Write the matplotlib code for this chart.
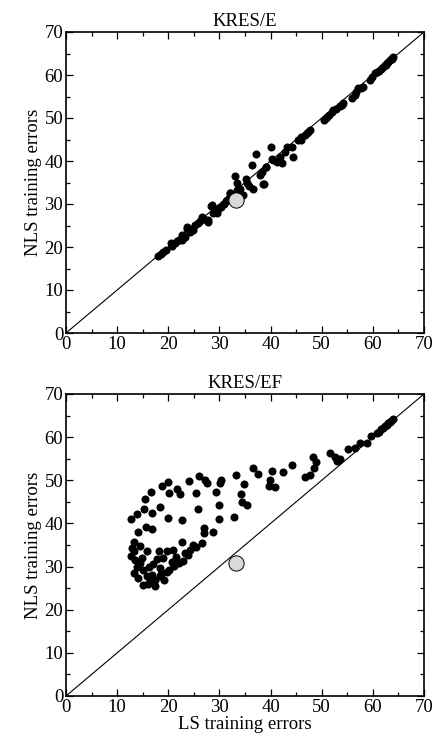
import matplotlib
matplotlib.use("Agg")
import matplotlib.pyplot as plt
from matplotlib.ticker import MultipleLocator

plt.rcParams['font.family'] = ['Liberation Serif', 'DejaVu Serif']

# ---- data: KRES/E (top) ----
top_ls = [18.0, 18.6, 19.0, 19.5, 20.5, 20.7, 21.3, 22.0, 22.6, 22.6, 23.2, 23.6, 23.6, 24.2,
          24.9, 25.3, 25.8, 26.5, 27.0, 27.8, 27.8, 28.3, 28.5, 28.7, 29.5, 29.8, 30.4, 30.8,
          31.2, 31.8, 32.1, 32.1, 32.6, 33.1, 33.4, 33.5, 34.7, 35.2, 35.3, 35.7, 36.4, 36.5,
          37.1, 37.9, 38.3, 38.6, 38.7, 39.2, 39.2, 40.1, 40.2, 40.5, 41.2, 41.8, 42.2, 42.8,
          43.2, 44.1, 44.4, 45.4, 46.0, 46.8, 47.1, 47.7, 50.4, 51.0, 51.5, 52.3, 52.8, 54.0,
          54.2, 56.5, 56.8, 57.1, 58.1, 59.4, 59.9, 60.4, 60.8, 61.2, 61.6, 62.0, 62.3, 62.7,
          63.0, 63.4, 63.7, 64.0, 63.8, 62.5, 45.9, 47.4, 50.8, 52.0, 53.6, 55.9, 57.6, 21.8,
          24.6, 26.2, 29.2, 31.5, 34.0]
top_nls = [17.9, 18.3, 18.9, 19.2, 21.0, 20.3, 20.9, 21.6, 21.6, 22.8, 22.4, 24.3, 24.7, 23.6,
           24.0, 25.1, 25.6, 27.0, 26.6, 26.3, 25.9, 29.6, 29.8, 27.9, 27.8, 28.8, 29.4, 30.1,
           30.6, 31.3, 32.5, 32.6, 31.6, 36.5, 34.8, 33.2, 32.1, 35.8, 34.8, 34.2, 39.1, 33.6,
           41.6, 36.7, 37.5, 34.6, 34.6, 38.5, 38.7, 43.3, 40.4, 40.2, 39.8, 41.0, 39.5, 42.2,
           43.3, 43.3, 41.0, 44.9, 45.5, 46.0, 46.4, 47.2, 49.6, 50.2, 50.6, 51.9, 52.1, 53.1,
           53.4, 55.3, 56.1, 56.9, 57.3, 58.8, 59.6, 60.5, 60.7, 61.0, 61.5, 61.9, 62.3, 62.7,
           63.0, 63.5, 63.8, 64.3, 64.0, 62.4, 45.0, 46.8, 49.9, 51.3, 52.8, 54.6, 57.0, 21.4,
           24.2, 26.0, 28.9, 31.0, 33.4]

# ---- data: KRES/EF (bottom) ----
bot_ls = [15.1, 16.1, 17.4, 17.4, 15.8, 14.1, 13.2, 16.8, 18.4, 19.7, 18.4, 15.1, 14.5, 17.1,
          20.7, 22.0, 13.5, 12.8, 19.0, 21.6, 23.3, 13.2, 15.8, 18.2, 19.7, 21.0, 24.2, 25.4,
          14.5, 13.3, 22.6, 26.5, 14.1, 15.6, 16.9, 26.9, 27.0, 28.7, 12.8, 13.8, 15.3, 16.8,
          18.4, 19.9, 22.7, 25.9, 29.9, 30.0, 32.9, 15.4, 16.6, 18.7, 20.0, 20.2, 21.8, 22.2,
          24.0, 25.4, 26.0, 27.2, 27.6, 29.4, 30.3, 30.2, 33.2, 34.9, 34.2, 34.4, 35.4, 36.6,
          37.5, 39.9, 39.7, 40.8, 40.3, 42.4, 44.1, 46.7, 47.7, 48.5, 48.3, 48.9, 51.6, 52.6,
          52.9, 53.6, 55.1, 56.5, 57.4, 58.8, 59.7, 60.8, 61.2, 61.6, 62.0, 62.4, 62.7, 63.0,
          63.3, 63.6, 64.0, 18.6, 20.2, 21.2, 22.8, 23.8, 16.2, 17.8, 14.8, 13.9, 16.4, 19.2,
          12.9, 24.9]
bot_nls = [25.7, 26.0, 25.5, 26.9, 27.7, 27.3, 28.4, 28.0, 27.7, 28.8, 29.6, 29.2, 30.8, 30.6,
           31.1, 30.8, 31.5, 32.5, 31.9, 32.3, 33.1, 33.7, 33.7, 33.7, 33.7, 33.8, 33.8, 34.5,
           34.8, 35.8, 35.8, 35.4, 38.1, 39.2, 38.6, 38.9, 37.7, 38.1, 41.0, 42.1, 43.3, 42.5,
           43.7, 41.2, 40.7, 43.3, 44.3, 41.1, 41.5, 45.6, 47.4, 48.6, 49.6, 47.1, 47.9, 46.8,
           49.9, 47.0, 51.0, 50.1, 49.4, 47.4, 50.1, 49.3, 51.2, 49.1, 46.8, 44.9, 44.3, 52.8,
           51.5, 50.0, 48.7, 48.4, 52.2, 52.0, 53.5, 50.8, 51.2, 52.8, 55.4, 54.3, 56.4, 55.3,
           54.4, 54.9, 57.2, 57.5, 58.6, 58.7, 60.2, 61.0, 61.3, 61.8, 62.1, 62.5, 62.8, 63.2,
           63.5, 63.8, 64.1, 28.2, 29.3, 30.2, 31.4, 32.6, 29.8, 31.8, 32.0, 29.9, 27.0, 26.8,
           34.2, 35.0]

# highlighted reference point (same in both panels)
ref_ls = [33.2]
ref_nls = [30.9]

titles = ["KRES/E", "KRES/EF"]
x_label = "LS training errors"
y_label = "NLS training errors"

fig = plt.figure(figsize=(4.35, 7.41), dpi=100)
W, H = 435, 741
ax_top = fig.add_axes([66 / W, 1 - 333 / H, 358 / W, 301 / H])
ax_bot = fig.add_axes([66 / W, 1 - 696 / H, 358 / W, 302 / H])

for ax, xs, ys, title in [(ax_top, top_ls, top_nls, titles[0]),
                          (ax_bot, bot_ls, bot_nls, titles[1])]:
    ax.plot([0, 70], [0, 70], color='black', lw=0.8, zorder=1)
    ax.plot(xs, ys, 'o', color='black', ms=5.8, mec='black', mew=0, zorder=2)
    ax.plot(ref_ls, ref_nls, 'o', color='#d9d9d9', ms=11, mec='black', mew=0.7, zorder=3)
    ax.set_xlim(0, 70)
    ax.set_ylim(0, 70)
    ax.xaxis.set_major_locator(MultipleLocator(10))
    ax.yaxis.set_major_locator(MultipleLocator(10))
    ax.xaxis.set_minor_locator(MultipleLocator(5))
    ax.yaxis.set_minor_locator(MultipleLocator(5))
    ax.tick_params(which='both', direction='in', top=True, right=True, labelsize=13.5, pad=2)
    ax.tick_params(which='major', length=5, width=0.9)
    ax.tick_params(which='minor', length=3, width=0.9)
    for s in ax.spines.values():
        s.set_linewidth(1.2)
    ax.set_title(title, fontsize=13.5, pad=4)
    ax.set_ylabel(y_label, fontsize=13.5, labelpad=2)

ax_bot.set_xlabel(x_label, fontsize=13.5, labelpad=0.5)

fig.savefig("out.png", dpi=100)
